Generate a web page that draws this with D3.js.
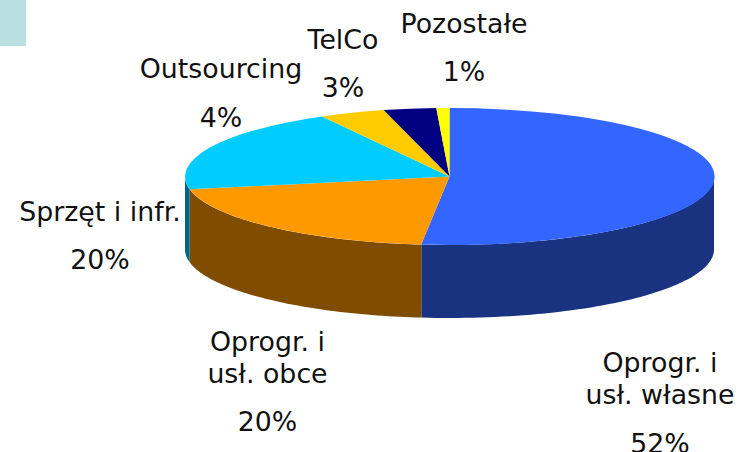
<!DOCTYPE html>
<html><head><meta charset="utf-8">
<script src="https://d3js.org/d3.v7.min.js"></script>
<style>html,body{margin:0;padding:0;background:#fff}svg{display:block}text{font-family:"DejaVu Sans",Verdana,sans-serif;font-size:26.8px;fill:#111;text-anchor:middle}</style>
</head><body><svg id="c" width="738" height="452"></svg>
<script>
const categories = [["Oprogr. i","usł. własne"],["Oprogr. i","usł. obce"],["Sprzęt i infr."],["Outsourcing"],["TelCo"],["Pozostałe"]];
const percentLabels = [52,20,20,4,3,1];
const sliceValues = [51.7,20.3,20,4,3.2,0.8];
const topColors = ["#3366ff","#ff9900","#00ccff","#ffcc00","#000080","#ffff00"];
const sideColors = ["#1a3380","#804d00","#006680","#806600","#000040","#808000"];

const cx=449.5, cy=176.5, rx=264.5, ry=68.5, depth=73;
const labelAnchors=[[660,372],[267.5,351],[100,221],[221,78],[343,49],[464,33]];
const valueBaselines=[453,431,269,127,97,81];

const svg=d3.select("#c");
svg.append("rect").attr("width",26).attr("height",46).attr("fill","#b9dfe3");

const arcs=d3.pie().sort(null)(sliceValues);
const px=d3.scaleLinear().domain([-1,1]).range([cx-rx,cx+rx]);
const py=d3.scaleLinear().domain([-1,1]).range([cy-ry,cy+ry]);
const line=d3.line();
const rim=(a,off)=>[px(Math.sin(a)),py(-Math.cos(a))+off];

// side walls: only the front half of the rim (PI/2 .. 3PI/2) is visible
arcs.forEach((d,i)=>{
  const a0=Math.max(d.startAngle,Math.PI/2), a1=Math.min(d.endAngle,3*Math.PI/2);
  if(a1<=a0) return;
  const as=d3.range(0,61).map(k=>a0+(a1-a0)*k/60);
  const pts=as.map(a=>rim(a,0)).concat(as.slice().reverse().map(a=>rim(a,depth)));
  svg.append("path").attr("d",line(pts)+"Z").attr("fill",sideColors[i]);
});

// top faces
const arc=d3.arc().innerRadius(0).outerRadius(1);
const topFace=svg.append("g").attr("transform",`translate(${cx},${cy}) scale(${rx},${ry})`);
topFace.selectAll("path").data(arcs).join("path")
  .attr("d",arc).attr("fill",(d,i)=>topColors[i]);

// labels
categories.forEach((lines,i)=>{
  const [x,y]=labelAnchors[i];
  lines.forEach((t,j)=>svg.append("text").attr("x",x).attr("y",y+j*32).text(t));
  svg.append("text").attr("x",x).attr("y",valueBaselines[i]).text(percentLabels[i]+"%");
});
</script></body></html>
